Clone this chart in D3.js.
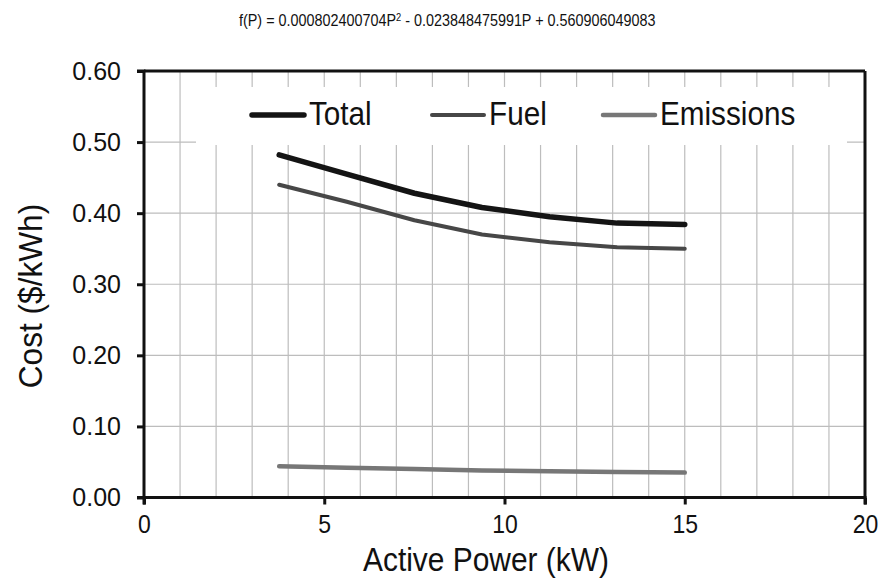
<!DOCTYPE html>
<html>
<head>
<meta charset="utf-8">
<script src="https://cdn.jsdelivr.net/npm/d3@7/dist/d3.min.js"></script>
<style>
  body { margin: 0; background: #fff; }
  svg { display: block; font-family: "Liberation Sans", Arial, sans-serif; }
</style>
</head>
<body>
<svg id="chart" width="883" height="578"></svg>
<script>
// ---- data ----
const powerKW = [3.75, 5.625, 7.5, 9.375, 11.25, 13.125, 15];
const totalCost = [0.482, 0.455, 0.428, 0.408, 0.395, 0.386, 0.384];
const fuelCost = [0.440, 0.416, 0.390, 0.370, 0.359, 0.352, 0.350];
const emissionsCost = [0.044, 0.042, 0.040, 0.038, 0.037, 0.036, 0.035];
const seriesNames = ["Total", "Fuel", "Emissions"];
const xTicks = [0, 5, 10, 15, 20];
const yTicks = [0, 0.1, 0.2, 0.3, 0.4, 0.5, 0.6];
const titleParts = ["f(P) = 0.000802400704P", "2", " - 0.023848475991P + 0.560906049083"];

// ---- layout ----
const svg = d3.select("#chart");
const pL = 144, pR = 865, pT = 71, pB = 497.5;
const x = d3.scaleLinear().domain([0, 20]).range([pL, pR]);
const y = d3.scaleLinear().domain([0, 0.6]).range([pB, pT]);

const styles = [
  { color: "#141414", width: 5.5 },
  { color: "#474747", width: 4 },
  { color: "#777777", width: 4.5 }
];
const seriesData = [totalCost, fuelCost, emissionsCost];

// gridlines
const g = svg.append("g");
g.selectAll("line.vg").data(d3.range(1, 20)).join("line")
  .attr("class", "vg")
  .attr("x1", d => x(d)).attr("x2", d => x(d))
  .attr("y1", pT).attr("y2", pB)
  .attr("stroke", "#bdbdbd").attr("stroke-width", 1.2);
g.selectAll("line.hg").data(yTicks.slice(1, -1)).join("line")
  .attr("class", "hg")
  .attr("x1", pL).attr("x2", pR)
  .attr("y1", d => y(d)).attr("y2", d => y(d))
  .attr("stroke", "#bdbdbd").attr("stroke-width", 1.2);

// legend background
svg.append("rect").attr("x", 196).attr("y", 87).attr("width", 651).attr("height", 58).attr("fill", "#fff");

// lines
const line = d3.line().x((d, i) => x(powerKW[i])).y(d => y(d));
seriesData.forEach((s, k) => {
  svg.append("path").datum(s).attr("d", line)
    .attr("fill", "none").attr("stroke", styles[k].color)
    .attr("stroke-width", styles[k].width)
    .attr("stroke-linecap", "round").attr("stroke-linejoin", "round");
});

// frame
svg.append("line").attr("x1", pL).attr("x2", pR).attr("y1", pT).attr("y2", pT).attr("stroke", "#111").attr("stroke-width", 3);
svg.append("line").attr("x1", pR).attr("x2", pR).attr("y1", pT).attr("y2", pB).attr("stroke", "#111").attr("stroke-width", 3);

// axes
const yAxis = d3.axisLeft(y).tickValues(yTicks).tickFormat(d3.format(".2f")).tickSize(7).tickPadding(16);
const ya = svg.append("g").attr("transform", `translate(${pL},0)`).call(yAxis);
ya.select(".domain").attr("stroke", "#111").attr("stroke-width", 3).attr("d", `M-7,${pT}H0V${pB}H-7`);
ya.selectAll(".tick line").attr("stroke", "#111").attr("stroke-width", 3);
ya.selectAll(".tick text").attr("font-size", 25).attr("fill", "#111").attr("font-family", "Liberation Sans, Arial, sans-serif");

const xAxis = d3.axisBottom(x).tickValues(xTicks).tickFormat(d3.format("d")).tickSize(7).tickPadding(11);
const xa = svg.append("g").attr("transform", `translate(0,${pB})`).call(xAxis);
xa.select(".domain").attr("stroke", "#111").attr("stroke-width", 3).attr("d", `M${pL},7V0H${pR}V7`);
xa.selectAll(".tick line").attr("stroke", "#111").attr("stroke-width", 3);
xa.selectAll(".tick text").attr("font-size", 25).attr("fill", "#111").attr("font-family", "Liberation Sans, Arial, sans-serif")
  .attr("transform", "scale(0.92,1)");

// axis titles
svg.append("text").attr("transform", `translate(486,571) scale(0.88,1)`).attr("text-anchor", "middle")
  .attr("font-size", 34).attr("fill", "#111").text("Active Power (kW)");
svg.append("text").attr("transform", `translate(42,296) rotate(-90) scale(0.93,1)`).attr("text-anchor", "middle")
  .attr("font-size", 34).attr("fill", "#111").text("Cost ($/kWh)");

// title (single text element, superscript as tspan, horizontally condensed)
const t = svg.append("text").attr("transform", "translate(239,26) scale(0.846,1)")
  .attr("font-size", 17).attr("fill", "#111");
t.append("tspan").text(titleParts[0]);
t.append("tspan").attr("font-size", 11).attr("baseline-shift", "super").text(titleParts[1]);
t.append("tspan").text(titleParts[2]);

// legend
const legendX = [252, 432, 603];
seriesNames.forEach((name, k) => {
  svg.append("line").attr("x1", legendX[k]).attr("x2", legendX[k] + 52).attr("y1", 115).attr("y2", 115)
    .attr("stroke", styles[k].color).attr("stroke-width", styles[k].width).attr("stroke-linecap", "round");
  svg.append("text").attr("transform", `translate(${legendX[k] + 57},125) scale(0.9,1)`)
    .attr("font-size", 33).attr("fill", "#111").text(name);
});
</script>
</body>
</html>
